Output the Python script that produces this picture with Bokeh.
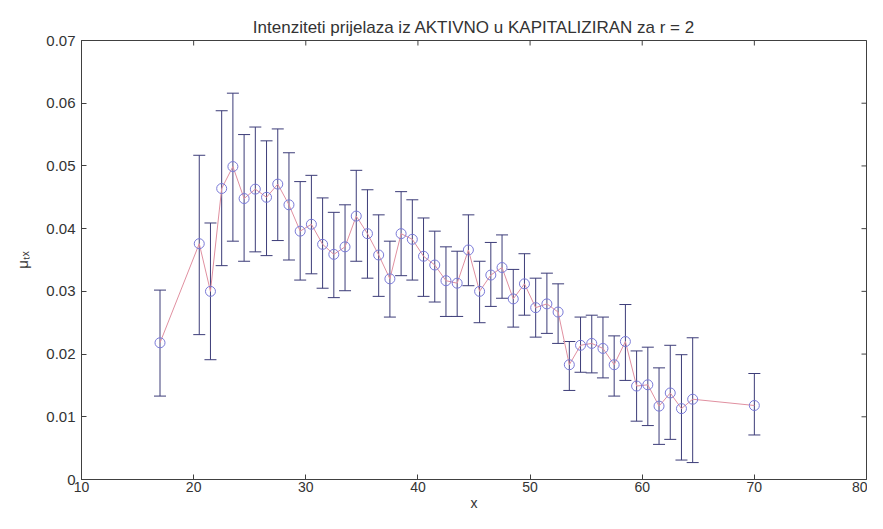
import math
from bokeh.plotting import figure
from bokeh.models import (Range1d, FixedTicker, Whisker, TeeHead,
                          ColumnDataSource, CustomJSTickFormatter)
from bokeh.embed import file_html
from bokeh.resources import INLINE

# ---- data ----
x = [17, 20.5, 21.5, 22.5, 23.5, 24.5, 25.5, 26.5, 27.5, 28.5, 29.5, 30.5,
     31.5, 32.5, 33.5, 34.5, 35.5, 36.5, 37.5, 38.5, 39.5, 40.5, 41.5, 42.5,
     43.5, 44.5, 45.5, 46.5, 47.5, 48.5, 49.5, 50.5, 51.5, 52.5, 53.5, 54.5,
     55.5, 56.5, 57.5, 58.5, 59.5, 60.5, 61.5, 62.5, 63.5, 64.5, 70]
mu = [0.0218, 0.0376, 0.0300, 0.0464, 0.0499, 0.0448, 0.0463, 0.0450, 0.0471,
      0.0438, 0.0396, 0.0407, 0.0375, 0.0359, 0.0371, 0.0420, 0.0392, 0.0358,
      0.0320, 0.0392, 0.0383, 0.0356, 0.0342, 0.0317, 0.0313, 0.0366, 0.0300,
      0.0326, 0.0338, 0.0288, 0.0312, 0.0274, 0.0280, 0.0267, 0.0183, 0.0214,
      0.0217, 0.0209, 0.0183, 0.0220, 0.0149, 0.0151, 0.0117, 0.0138, 0.0113,
      0.0128, 0.0118]
upper = [0.0302, 0.0517, 0.0409, 0.0588, 0.0616, 0.0550, 0.0562, 0.0540, 0.0559,
         0.0521, 0.0475, 0.0485, 0.0449, 0.0426, 0.0438, 0.0493, 0.0462, 0.0422,
         0.0380, 0.0459, 0.0446, 0.0417, 0.0396, 0.0371, 0.0364, 0.0422, 0.0348,
         0.0378, 0.0390, 0.0335, 0.0360, 0.0321, 0.0329, 0.0312, 0.0220, 0.0259,
         0.0262, 0.0259, 0.0229, 0.0279, 0.0205, 0.0211, 0.0178, 0.0214, 0.0199,
         0.0226, 0.0169]
lower = [0.0133, 0.0231, 0.0191, 0.0341, 0.0380, 0.0348, 0.0363, 0.0357, 0.0381,
         0.0350, 0.0318, 0.0328, 0.0305, 0.0290, 0.0301, 0.0348, 0.0321, 0.0292,
         0.0259, 0.0325, 0.0318, 0.0292, 0.0283, 0.0260, 0.0260, 0.0309, 0.0250,
         0.0276, 0.0289, 0.0243, 0.0262, 0.0227, 0.0233, 0.0217, 0.0142, 0.0171,
         0.0170, 0.0162, 0.0133, 0.0158, 0.0093, 0.0086, 0.0056, 0.0064, 0.0031,
         0.0027, 0.0071]

x_ticks = [10, 20, 30, 40, 50, 60, 70, 80]
y_ticks = [0, 0.01, 0.02, 0.03, 0.04, 0.05, 0.06, 0.07]
y_tick_labels = ["0", "0.01", "0.02", "0.03", "0.04", "0.05", "0.06", "0.07"]

title_text = "Intenziteti prijelaza iz AKTIVNO u KAPITALIZIRAN za r = 2"
x_label = "x"
y_label = "μₜₓ"

# ---- styles ----
AX = "#404040"
TXT = "#333333"
BAR = "#3c3c78"
MARK = "#7a7ad8"
LINE = "#e090a0"
FONT = "Liberation Sans"

X0, X1 = 10, 80
Y0, Y1 = 0, 0.07

src = ColumnDataSource(dict(x=x, mu=mu, upper=upper, lower=lower))

p = figure(width=867, height=513,
           x_range=Range1d(X0, X1), y_range=Range1d(Y0, Y1),
           output_backend="svg", toolbar_location=None,
           min_border_left=81, min_border_right=1,
           min_border_top=40, min_border_bottom=34)

p.background_fill_color = "white"
p.border_fill_color = "white"
p.outline_line_color = AX
p.grid.visible = False

p.xaxis.ticker = FixedTicker(ticks=x_ticks)
p.yaxis.ticker = FixedTicker(ticks=y_ticks)
p.yaxis.formatter = CustomJSTickFormatter(
    code='return tick === 0 ? "0" : tick.toFixed(2);')
p.yaxis.major_label_overrides = dict(zip(y_ticks, y_tick_labels))

for ax in p.axis:
    ax.axis_line_color = AX
    ax.major_tick_line_color = AX
    ax.major_tick_in = 5
    ax.major_tick_out = 0
    ax.minor_tick_line_color = None
    ax.major_label_text_font = FONT
    ax.major_label_text_color = TXT
    ax.axis_label_text_font = FONT
    ax.axis_label_text_font_style = "normal"
    ax.axis_label_text_color = TXT

p.xaxis.major_label_text_font_size = "14px"
p.xaxis.major_label_standoff = 2
p.xaxis.axis_label = x_label
p.xaxis.axis_label_standoff = 0
p.xaxis.axis_label_text_font_size = "14px"

p.yaxis.major_label_text_font_size = "15px"
p.yaxis.major_label_standoff = 6
p.yaxis.axis_label = y_label
p.yaxis.axis_label_standoff = 12
p.yaxis.axis_label_text_font_size = "15px"

p.title.text = title_text
p.title.align = "center"
p.title.text_font = FONT
p.title.text_font_size = "17px"
p.title.text_font_style = "normal"
p.title.text_color = TXT
p.title.standoff = 7

# inward ticks on the top and right edges of the box (clipped to the frame)
p.scatter(x=x_ticks, y=[Y1] * len(x_ticks), marker="dash", size=10,
          angle=math.pi / 2, line_color=AX, line_width=1)
p.scatter(x=[X1] * len(y_ticks), y=y_ticks, marker="dash", size=10,
          line_color=AX, line_width=1)

whisk = Whisker(source=src, base="x", upper="upper", lower="lower",
                line_color=BAR, line_width=1, level="underlay",
                upper_head=TeeHead(size=12, line_color=BAR, line_width=1),
                lower_head=TeeHead(size=12, line_color=BAR, line_width=1))
p.add_layout(whisk)

p.line("x", "mu", source=src, line_color=LINE, line_width=1)
p.scatter("x", "mu", source=src, marker="circle", size=10,
          fill_color=None, line_color=MARK, line_width=1)

open("out.html", "w").write(file_html(p, INLINE))
